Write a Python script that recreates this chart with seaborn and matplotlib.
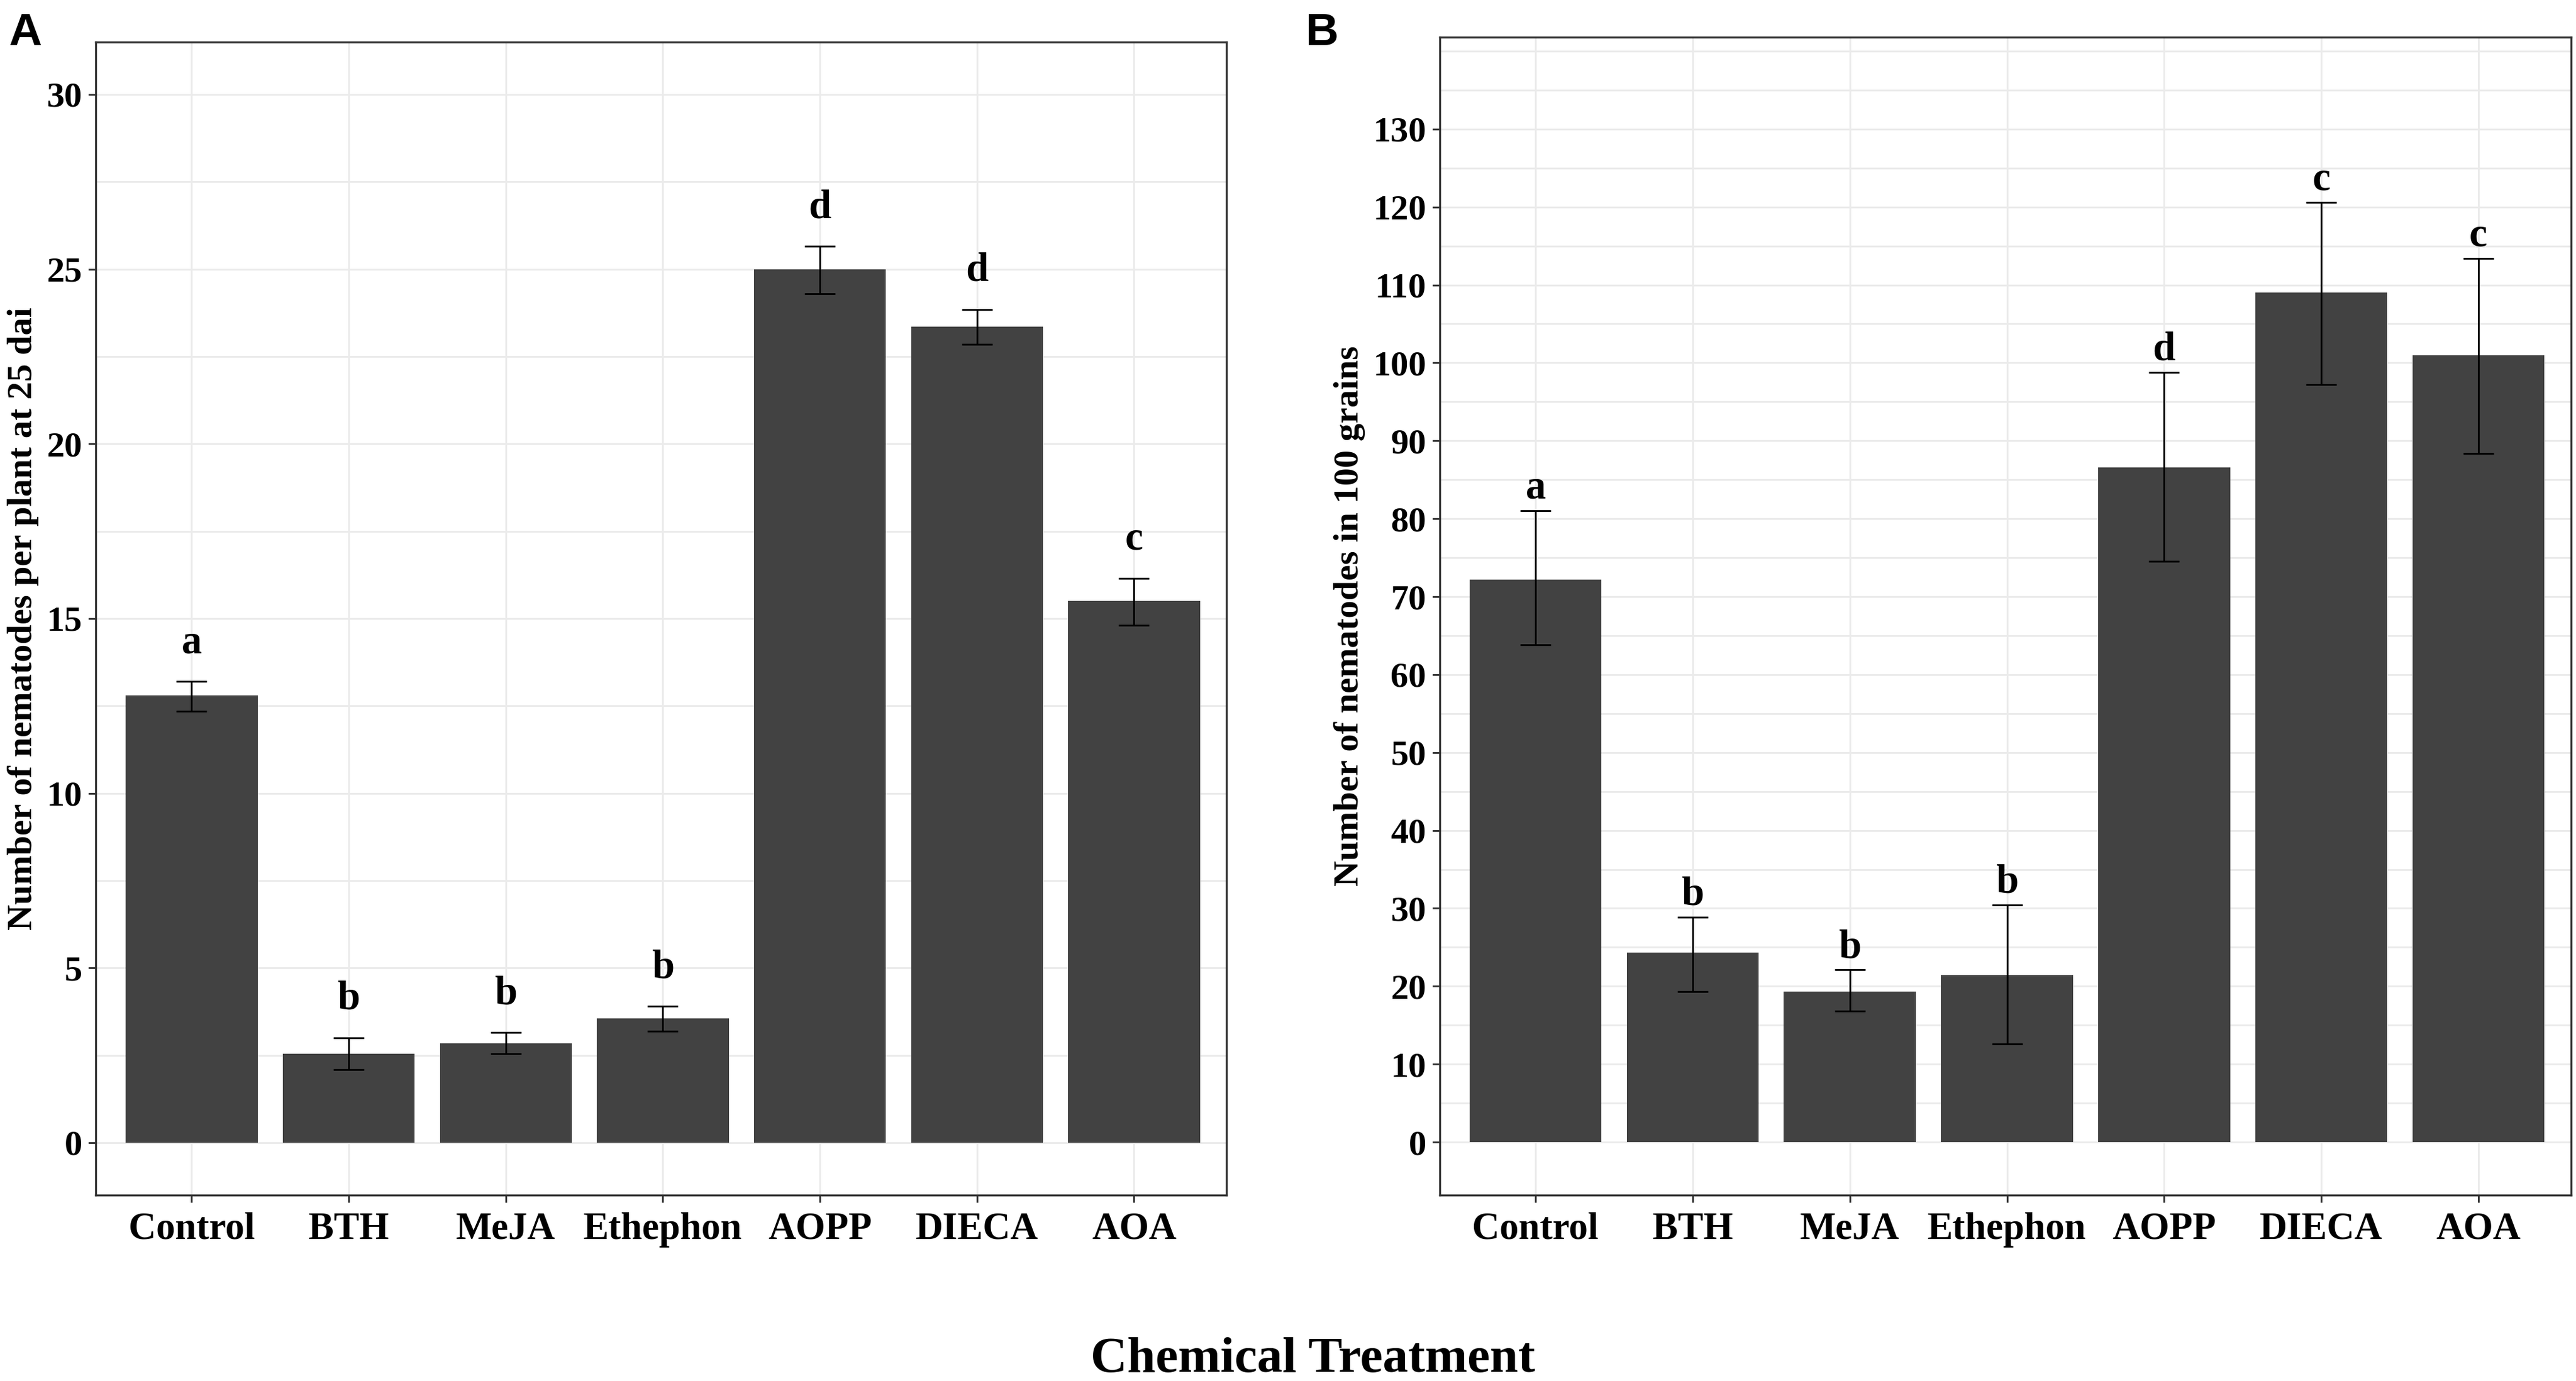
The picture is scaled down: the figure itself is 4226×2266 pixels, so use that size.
import matplotlib
matplotlib.use('Agg')
import matplotlib.pyplot as plt
import numpy as np
import pandas as pd
import seaborn as sns

# values
treatments = ['Control', 'BTH', 'MeJA', 'Ethephon', 'AOPP', 'DIECA', 'AOA']

a_mean = [12.8, 2.55, 2.85, 3.55, 25.0, 23.35, 15.5]
a_low = [12.35, 2.1, 2.55, 3.2, 24.3, 22.85, 14.8]
a_high = [13.2, 3.0, 3.15, 3.9, 25.65, 23.85, 16.15]
a_letters = ['a', 'b', 'b', 'b', 'd', 'd', 'c']

b_mean = [72.2, 24.3, 19.3, 21.4, 86.6, 109.0, 101.0]
b_low = [63.8, 19.3, 16.8, 12.6, 74.5, 97.2, 88.4]
b_high = [81.0, 28.9, 22.1, 30.4, 98.8, 120.6, 113.4]
b_letters = ['a', 'b', 'b', 'b', 'd', 'c', 'c']

sns.set_style('white')
plt.rcParams['font.family'] = ['Liberation Serif', 'DejaVu Serif']
plt.rcParams['font.weight'] = 'bold'
plt.rcParams['text.color'] = 'black'
plt.rcParams['axes.labelcolor'] = 'black'

bar_col = '#424242'
grid_col = '#ebebeb'
frame_col = '#333333'

fig = plt.figure(figsize=(4226 / 300, 2266 / 300), dpi=300)
ax_a = fig.add_axes([0.0372, 0.1346, 0.439, 0.835])
ax_b = fig.add_axes([0.5589, 0.1346, 0.4392, 0.8385])


def draw_panel(ax, mean, low, high, letters, ylim, major, minor, ylabel, letter_pad):
    df = pd.DataFrame({'treatment': treatments, 'value': mean})
    sns.barplot(data=df, x='treatment', y='value', color=bar_col, saturation=1,
                width=0.84, errorbar=None, linewidth=0, ax=ax)
    mean = np.array(mean)
    yerr = [mean - np.array(low), np.array(high) - mean]
    ax.errorbar(np.arange(len(treatments)), mean, yerr=yerr, fmt='none',
                ecolor='black', elinewidth=0.7, capsize=6.1, capthick=0.7)
    for i, (top, lab) in enumerate(zip(high, letters)):
        ax.annotate(lab, (i, top), xytext=(0, letter_pad), textcoords='offset points',
                    ha='center', va='baseline', fontsize=16, fontweight='bold',
                    color='black')

    ax.set_xlim(-0.61, len(treatments) - 0.41)
    ax.set_ylim(*ylim)
    ax.set_yticks(major)
    ax.set_yticks(minor, minor=True)
    ax.set_xticks(range(len(treatments)))
    ax.set_xticklabels(treatments)
    ax.set_axisbelow(True)
    ax.grid(True, which='both', axis='y', color=grid_col, lw=0.7)
    ax.grid(True, which='major', axis='x', color=grid_col, lw=0.7)

    ax.tick_params(axis='both', which='major', direction='out', length=2.9, width=0.7,
                   color=frame_col, labelcolor='black', bottom=True, left=True)
    ax.tick_params(axis='x', labelsize=15, pad=3.8)
    ax.tick_params(axis='y', labelsize=14, pad=2.4)
    ax.tick_params(which='minor', length=0)
    for t in ax.get_xticklabels() + ax.get_yticklabels():
        t.set_fontweight('bold')
    for s in ax.spines.values():
        s.set_visible(True)
        s.set_color(frame_col)
        s.set_linewidth(0.8)
    ax.set_xlabel('')
    ax.set_ylabel(ylabel, fontsize=14, fontweight='bold', labelpad=3, color='black')


draw_panel(ax_a, a_mean, a_low, a_high, a_letters, (-1.5, 31.5),
           np.arange(0, 31, 5), np.arange(2.5, 31, 5),
           'Number of nematodes per plant at 25 dai', 11.3)
draw_panel(ax_b, b_mean, b_low, b_high, b_letters, (-6.8, 141.8),
           np.arange(0, 131, 10), np.arange(5, 141, 10),
           'Number of nematodes in 100 grains', 4.9)
# ggplot draws a major line at 140 without a label
ax_b.axhline(140, color=grid_col, lw=0.7, zorder=0)

fig.text(0.5095, 0.0065, 'Chemical Treatment', ha='center', va='baseline',
         fontsize=20, fontweight='bold', color='black')
fig.text(14 / 4226, 1 - 20 / 2266, 'A', ha='left', va='top', fontsize=18,
         fontweight='bold', family='Liberation Sans', color='black')
fig.text(2142 / 4226, 1 - 20 / 2266, 'B', ha='left', va='top', fontsize=18,
         fontweight='bold', family='Liberation Sans', color='black')

fig.savefig('out.png', dpi=300)
